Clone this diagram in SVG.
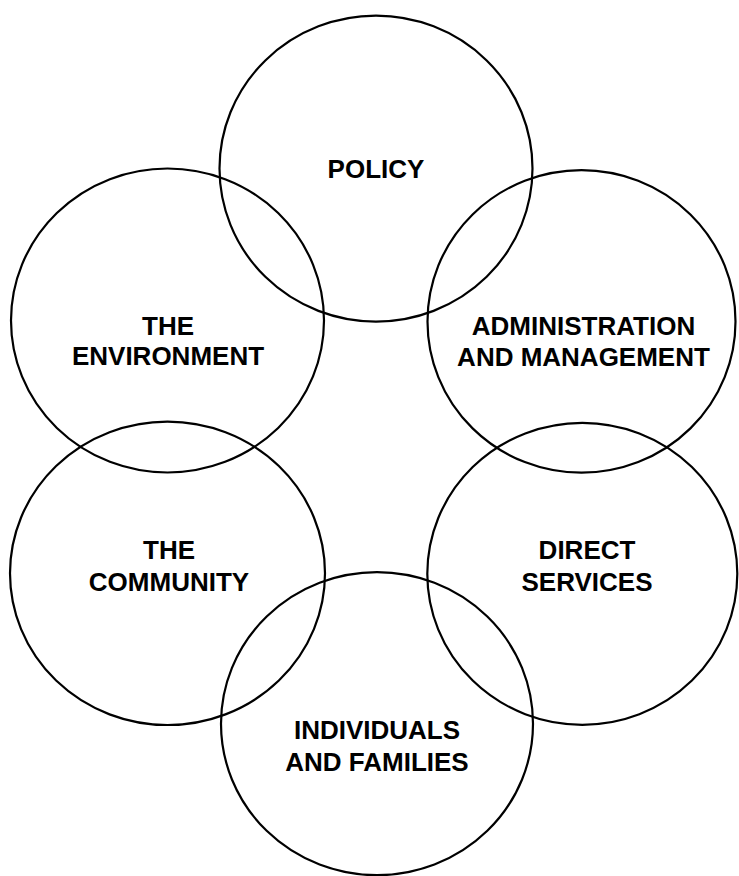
<svg xmlns="http://www.w3.org/2000/svg" width="739" height="876" viewBox="0 0 739 876">
<style>
.c{fill:none;stroke:#000;stroke-width:2.2}
.t{font-family:"Liberation Sans",Arial,Helvetica,sans-serif;font-weight:bold;font-size:26px;fill:#000;text-anchor:middle}
</style>
<rect width="739" height="876" fill="#fff"/>
<g id="connectors"></g>
<g id="policy">
<ellipse class="c" cx="376" cy="168.6" rx="156.5" ry="153"/>
<text class="t" x="376" y="178">POLICY</text>
</g>
<g id="environment">
<ellipse class="c" cx="167.5" cy="320.5" rx="156.5" ry="152"/>
<text class="t" x="168" y="334.5">THE</text>
<text class="t" x="168" y="365">ENVIRONMENT</text>
</g>
<g id="administration">
<ellipse class="c" cx="581.5" cy="321.4" rx="154" ry="151.3"/>
<text class="t" x="583.5" y="335">ADMINISTRATION</text>
<text class="t" x="583.5" y="366">AND MANAGEMENT</text>
</g>
<g id="community">
<ellipse class="c" cx="167.5" cy="573.3" rx="157.5" ry="151.7"/>
<text class="t" x="169" y="559">THE</text>
<text class="t" x="169" y="590.5">COMMUNITY</text>
</g>
<g id="direct-services">
<ellipse class="c" cx="582.3" cy="573.8" rx="155" ry="151"/>
<text class="t" x="587" y="559">DIRECT</text>
<text class="t" x="587" y="591">SERVICES</text>
</g>
<g id="individuals">
<ellipse class="c" cx="377" cy="723.7" rx="156" ry="151.5"/>
<text class="t" x="377" y="739">INDIVIDUALS</text>
<text class="t" x="377" y="771">AND FAMILIES</text>
</g>
</svg>
